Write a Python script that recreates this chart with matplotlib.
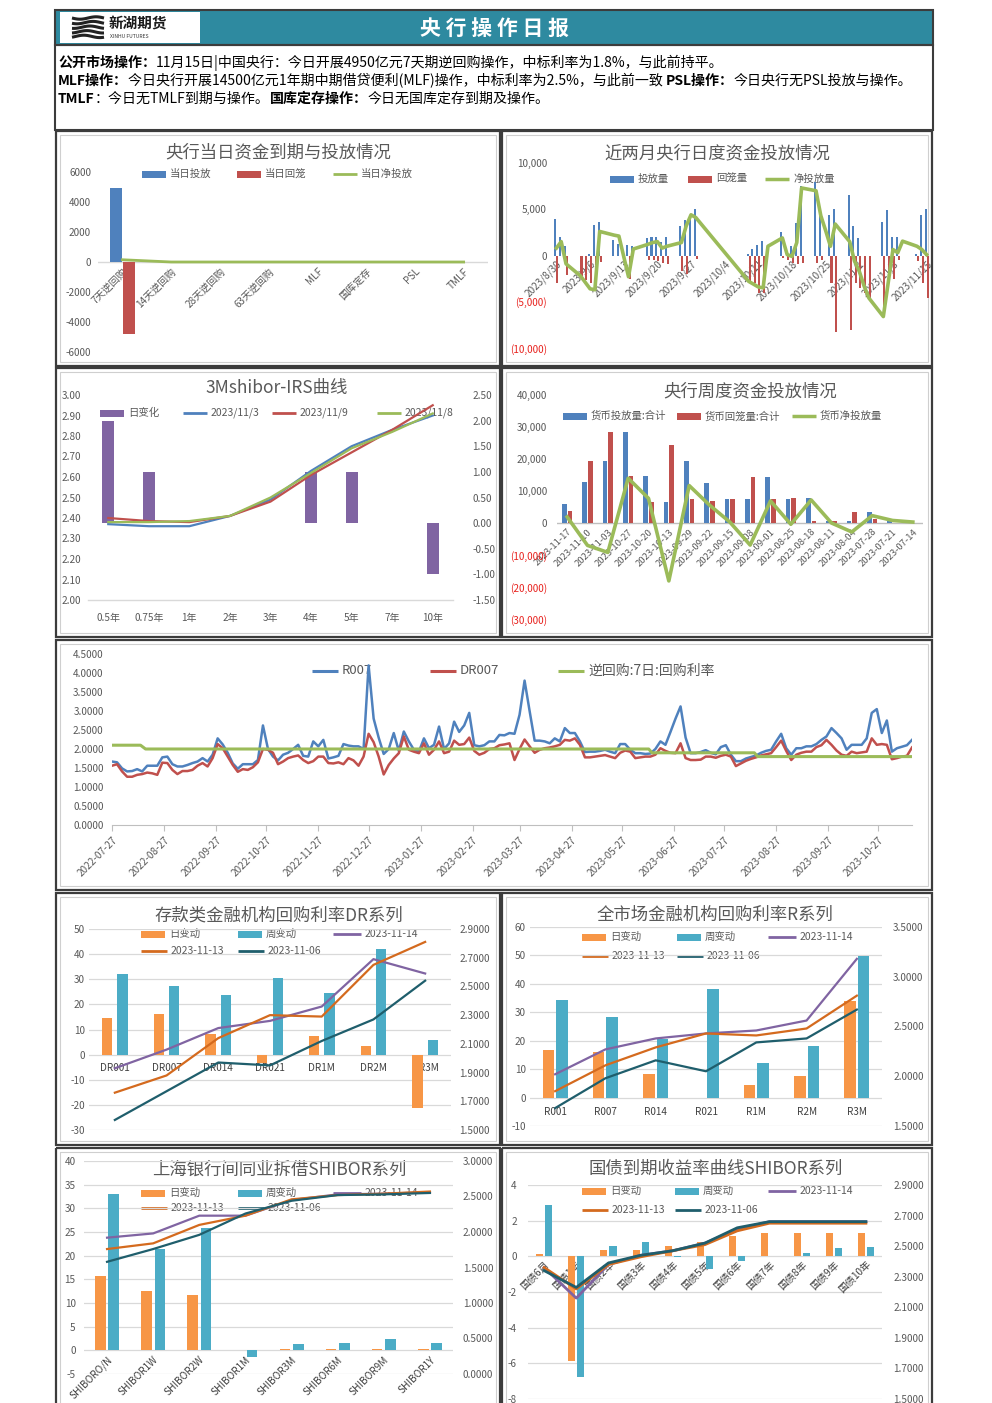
import matplotlib
matplotlib.use('Agg')
import matplotlib.pyplot as plt
import matplotlib.dates as mdates
import matplotlib.ticker as mticker
from matplotlib.patches import Rectangle
import numpy as np
import pandas as pd

plt.rcParams['font.family'] = ['Noto Sans CJK SC', 'DejaVu Sans']
plt.rcParams['axes.unicode_minus'] = False

# ---------------------------------------------------------------- data
c1_cats = ['7天逆回购', '14天逆回购', '28天逆回购', '63天逆回购', 'MLF', '国库定存', 'PSL', 'TMLF']
c1_inject = [4950, 0, 0, 0, 0, 0, 0, 0]
c1_withdraw = [-4800, 0, 0, 0, 0, 0, 0, 0]
c1_net = [150, 0, 0, 0, 0, 0, 0, 0]

c2_dates = ['2023-08-30', '2023-08-31', '2023-09-01', '2023-09-04', '2023-09-05', '2023-09-06',
            '2023-09-07', '2023-09-08', '2023-09-11', '2023-09-12', '2023-09-13', '2023-09-14',
            '2023-09-15', '2023-09-18', '2023-09-19', '2023-09-20', '2023-09-21', '2023-09-22',
            '2023-09-25', '2023-09-26', '2023-09-27', '2023-09-28', '2023-10-09', '2023-10-10',
            '2023-10-11', '2023-10-12', '2023-10-13', '2023-10-16', '2023-10-17', '2023-10-18',
            '2023-10-19', '2023-10-20', '2023-10-23', '2023-10-24', '2023-10-25', '2023-10-26',
            '2023-10-27', '2023-10-30', '2023-10-31', '2023-11-01', '2023-11-02', '2023-11-03',
            '2023-11-06', '2023-11-07', '2023-11-08', '2023-11-09', '2023-11-10', '2023-11-13',
            '2023-11-14', '2023-11-15']
c2_inject = [3900, 2000, 1000, 0, 0, 200, 3300, 3600, 1700, 1200, 0, 1100, 1000, 1900, 2000, 2000,
             1500, 2000, 3200, 3800, 4400, 5000, 200, 700, 1100, 1600, 0, 2500, 0, 1000, 3500, 7500,
             7900, 5000, 0, 4400, 5000, 6500, 3200, 1900, 0, 0, 3600, 4900, 2000, 2000, 0, 200,
             4400, 5000]
c2_withdraw = [-3000, 0, -2100, -2200, -2600, -3000, -1000, -700, -100, -100, 0, -2500, 0, -500,
               -500, -600, -800, -900, -1700, -2000, 0, -400, -2800, -3000, -4000, -4000, 0, -300,
               -500, -800, -900, -800, -800, -500, 0, -3000, -8300, -8000, -3000, -3500, -4000,
               -4800, -6000, -3000, -2500, -500, 0, -600, -3000, -4600]
c2_net = [800, 1500, -900, -2200, -2900, -3600, -3700, 2600, 2200, 2100, -100, -2300, 700, 1200,
          1400, 1500, 800, 1000, 1400, 3200, 4400, 4100, -2800, -3100, -3400, -3500, 1000, 1900,
          100, -100, 1400, 7300, 7000, 4300, 2700, 1000, 3400, 1500, -600, -1700, -3300, -4600,
          -6600, -3000, 650, 300, 1550, 1000, 650, 100]
c2_ticks = ['2023/8/30', '2023/9/6', '2023/9/13', '2023/9/20', '2023/9/27', '2023/10/4',
            '2023/10/11', '2023/10/18', '2023/10/25', '2023/11/1', '2023/11/8', '2023/11/15']

c3_cats = ['0.5年', '0.75年', '1年', '2年', '3年', '4年', '5年', '7年', '10年']
c3_chg = [2.0, 1.0, 0, 0, 0, 1.0, 1.0, 0, -1.0]
c3_1103 = [2.37, 2.36, 2.36, 2.41, 2.49, 2.63, 2.75, 2.83, 2.90]
c3_1109 = [2.40, 2.385, 2.38, 2.41, 2.48, 2.61, 2.72, 2.83, 2.95]
c3_1108 = [2.38, 2.38, 2.385, 2.41, 2.50, 2.62, 2.74, 2.82, 2.91]

c4_weeks = ['2023-11-17', '2023-11-10', '2023-11-03', '2023-10-27', '2023-10-20', '2023-10-13',
            '2023-09-29', '2023-09-22', '2023-09-15', '2023-09-08', '2023-09-01', '2023-08-25',
            '2023-08-18', '2023-08-11', '2023-08-04', '2023-07-28', '2023-07-21', '2023-07-14']
c4_inject = [5800, 12700, 19300, 28500, 14800, 6600, 19300, 12600, 7500, 7500, 14400, 7500, 7900,
             700, 700, 3500, 800, 300]
c4_withdraw = [3900, 19300, 28500, 14800, 6600, 24500, 7500, 6900, 7500, 14400, 7500, 7900, 700,
               700, 3500, 1200, 0, 0]
c4_net = [1900, -7000, -9200, 14000, 7700, -18100, 11700, 5600, 300, -6900, 6900, -400, 7200, 0,
          -2800, 2300, 800, 300]

c5_start = '2022-07-27'
c5_step_days = 3
r007 = [1.67, 1.65, 1.49, 1.41, 1.42, 1.47, 1.41, 1.56, 1.56, 1.56,
        1.78, 1.80, 1.60, 1.54, 1.54, 1.58, 1.63, 1.67, 1.76, 1.67,
        1.85, 2.28, 2.12, 1.90, 1.62, 1.48, 1.60, 1.60, 1.60, 1.71,
        2.62, 2.00, 1.80, 1.70, 1.85, 1.90, 2.00, 2.11, 1.82, 1.80,
        2.20, 2.07, 2.24, 1.75, 1.78, 1.82, 2.13, 2.09, 2.07, 2.07,
        2.00, 4.20, 2.80, 2.30, 1.87, 2.00, 2.42, 1.95, 2.46, 2.20,
        1.98, 1.93, 2.28, 2.02, 2.11, 2.59, 2.00, 2.15, 2.72, 2.45,
        2.62, 2.95, 2.10, 2.07, 2.10, 2.20,
        2.20, 2.37, 2.36, 2.42, 2.40, 2.90, 3.80, 3.00, 2.22, 2.22,
        2.20, 2.15, 2.28, 2.20, 2.55, 2.42, 2.42, 2.20, 1.92, 1.93,
        1.93, 1.95, 1.98, 1.93, 1.89, 2.13, 2.13, 1.98, 1.89, 1.89,
        1.87, 1.88, 2.00, 2.20, 2.11, 2.45, 2.80, 3.12, 2.30, 1.89,
        1.89, 1.92, 1.97, 1.90, 1.86, 2.05, 2.10, 1.85, 1.68, 1.68,
        1.75, 1.79, 1.83, 1.90, 1.95, 1.98, 2.20, 2.40, 2.02, 1.85,
        2.02, 2.02, 2.07, 2.07, 2.13, 2.24, 2.33, 2.55, 2.42, 2.28,
        1.98, 2.11, 2.11, 2.11, 2.28, 2.95, 3.05, 2.42, 2.75, 1.93,
        2.02, 2.06, 2.10, 2.24]
dr007 = [1.56, 1.60, 1.41, 1.27, 1.27, 1.32, 1.34, 1.38, 1.36, 1.32,
         1.64, 1.63, 1.45, 1.34, 1.42, 1.42, 1.45, 1.56, 1.63, 1.54,
         1.76, 2.13, 2.02, 1.80, 1.58, 1.40, 1.47, 1.45, 1.52, 1.65,
         2.00, 1.98, 1.90, 1.60, 1.67, 1.76, 1.80, 1.83, 1.71, 1.63,
         1.68, 1.80, 1.80, 1.63, 1.62, 1.65, 1.60, 1.76, 1.70, 1.56,
         1.80, 2.40, 2.18, 1.80, 1.33, 1.58, 1.75, 1.89, 2.33, 1.98,
         1.93, 1.89, 2.15, 1.85, 1.98, 2.20, 1.89, 1.93, 2.22, 2.11,
         2.13, 2.30, 1.95, 1.85, 1.90, 2.00,
         2.02, 2.10, 2.12, 2.15, 1.71, 2.00, 2.25, 2.07, 1.90, 1.98,
         2.02, 2.04, 2.07, 2.11, 2.24, 2.22, 2.28, 2.11, 1.78, 1.78,
         1.80, 1.82, 1.84, 1.80, 1.76, 1.90, 1.96, 1.93, 1.76, 1.78,
         1.80, 1.80, 1.85, 2.02, 1.95, 1.90, 1.89, 2.15, 1.76, 1.71,
         1.71, 1.72, 1.80, 1.80, 1.77, 1.82, 1.85, 1.80, 1.55, 1.62,
         1.69, 1.74, 1.78, 1.83, 1.86, 1.89, 2.05, 2.22, 1.95, 1.71,
         1.85, 1.90, 1.93, 1.93, 2.05, 2.10, 2.24, 2.11, 1.96, 1.85,
         1.82, 1.93, 1.89, 1.91, 1.93, 2.28, 2.11, 2.13, 2.11, 1.73,
         1.76, 1.80, 1.82, 2.04]
rr_dates = ['2022-07-27', '2022-08-13', '2022-08-16', '2023-06-12', '2023-06-14', '2023-08-14',
            '2023-08-16', '2023-11-16']
rr_vals = [2.10, 2.10, 2.00, 2.00, 1.90, 1.90, 1.80, 1.80]
c5_ticks = ['2022-07-27', '2022-08-27', '2022-09-27', '2022-10-27', '2022-11-27', '2022-12-27',
            '2023-01-27', '2023-02-27', '2023-03-27', '2023-04-27', '2023-05-27', '2023-06-27',
            '2023-07-27', '2023-08-27', '2023-09-27', '2023-10-27']

c6_cats = ['DR001', 'DR007', 'DR014', 'DR021', 'DR1M', 'DR2M', 'DR3M']
c6_day = [14.6, 16.3, 8.4, -3.3, 7.5, 3.6, -21.1]
c6_week = [32.1, 27.2, 23.9, 30.5, 24.6, 42.1, 5.8]
c6_1114 = [1.93, 2.06, 2.21, 2.26, 2.36, 2.69, 2.59]
c6_1113 = [1.76, 1.88, 2.14, 2.30, 2.29, 2.65, 2.81]
c6_1106 = [1.57, 1.77, 1.97, 1.95, 2.12, 2.27, 2.54]

c7_cats = ['R001', 'R007', 'R014', 'R021', 'R1M', 'R2M', 'R3M']
c7_day = [16.9, 16.1, 8.2, 0, 4.4, 7.6, 34.0]
c7_week = [34.2, 28.5, 20.5, 38.1, 12.0, 18.1, 49.7]
c7_1114 = [2.02, 2.27, 2.38, 2.43, 2.46, 2.56, 3.18]
c7_1113 = [1.85, 2.11, 2.29, 2.43, 2.41, 2.48, 2.81]
c7_1106 = [1.68, 1.98, 2.16, 2.05, 2.34, 2.38, 2.67]

c8_cats = ['SHIBORO/N', 'SHIBOR1W', 'SHIBOR2W', 'SHIBOR1M', 'SHIBOR3M', 'SHIBOR6M', 'SHIBOR9M', 'SHIBOR1Y']
c8_day = [15.8, 12.5, 11.7, 0, 0.3, 0.3, 0.3, 0.3]
c8_week = [33.1, 21.5, 25.9, -1.5, 1.3, 1.6, 2.5, 1.6]
c8_1114 = [1.92, 1.98, 2.23, 2.23, 2.45, 2.53, 2.54, 2.56]
c8_1113 = [1.76, 1.84, 2.10, 2.23, 2.46, 2.52, 2.54, 2.57]
c8_1106 = [1.58, 1.76, 1.96, 2.26, 2.44, 2.52, 2.53, 2.55]

c9_cats = ['国债6月', '国债1年', '国债2年', '国债3年', '国债4年', '国债5年', '国债6年', '国债7年', '国债8年', '国债9年', '国债10年']
c9_day = [0.15, -5.85, 0.37, 0.37, 0.6, 0.78, 1.16, 1.3, 1.3, 1.3, 1.3]
c9_week = [2.9, -6.77, 0.6, 0.78, -0.06, -0.7, -0.24, 0, 0.19, 0.47, 0.52]
c9_1114 = [2.36, 2.16, 2.38, 2.44, 2.47, 2.52, 2.61, 2.66, 2.66, 2.66, 2.66]
c9_1113 = [2.36, 2.22, 2.38, 2.43, 2.47, 2.51, 2.60, 2.65, 2.65, 2.65, 2.65]
c9_1106 = [2.34, 2.23, 2.39, 2.44, 2.47, 2.52, 2.62, 2.66, 2.66, 2.66, 2.66]

header_lines = [
    [('公开市场操作：', True), ('11月15日|中国央行：今日开展4950亿元7天期逆回购操作，中标利率为1.8%，与此前持平。', False)],
    [('MLF操作：', True), ('今日央行开展14500亿元1年期中期借贷便利(MLF)操作，中标利率为2.5%，与此前一致 ', False),
     ('PSL操作：', True), ('今日央行无PSL投放与操作。', False)],
    [('TMLF', True), ('：今日无TMLF到期与操作。', False), ('国库定存操作：', True), ('今日无国库定存到期及操作。', False)],
]

# ---------------------------------------------------------------- style
W, H = 992, 1403
DPI = 100
BLUE = '#4F81BD'; RED = '#C0504D'; GREEN = '#9BBB59'; PURPLE = '#8064A2'
ORANGE = '#F79646'; TEAL = '#4BACC6'; BROWN = '#D46A1E'; DTEAL = '#1F5E6C'
TG = '#595959'; NEG = '#E8231F'; GRID = '#D9D9D9'; FRAME = '#3C3C3C'
TFS = 12.5   # chart title size
LFS = 7.5    # legend size
KFS = 7.2    # tick size

fig = plt.figure(figsize=(W / DPI, H / DPI), dpi=DPI)
bg = fig.add_axes([0, 0, 1, 1])
bg.set_xlim(0, W); bg.set_ylim(H, 0); bg.axis('off'); bg.set_zorder(-5)


def R(x0, y0, x1, y1):
    return [x0 / W, 1 - y1 / H, (x1 - x0) / W, (y1 - y0) / H]


def box(x0, y0, x1, y1, ec, lw, fc='none', z=1):
    bg.add_patch(Rectangle((x0, y0), x1 - x0, y1 - y0, fc=fc, ec=ec, lw=lw, zorder=z))


def make_ax(x0, y0, x1, y1):
    ax = fig.add_axes(R(x0, y0, x1, y1))
    ax.patch.set_alpha(0)
    for s in ax.spines.values():
        s.set_visible(False)
    ax.tick_params(axis='both', length=0, labelsize=KFS, labelcolor=TG)
    return ax


def twin(ax):
    t = ax.twinx()
    t.patch.set_alpha(0)
    for s in t.spines.values():
        s.set_visible(False)
    t.tick_params(axis='both', length=0, labelsize=KFS, labelcolor=TG)
    return t


def leg(x, y, kind, color, label, fs=LFS, hw=24, lw=2.0):
    if kind == 'bar':
        bg.add_patch(Rectangle((x, y - 3.5), hw, 7, fc=color, ec='none', zorder=2))
    else:
        bg.plot([x, x + hw], [y, y], color=color, lw=lw, solid_capstyle='butt', zorder=2)
    bg.text(x + hw + 4, y, label, fontsize=fs, color=TG, va='center', ha='left', zorder=2)


def title(cx, cy, s):
    bg.text(cx, cy, s, fontsize=TFS, color=TG, ha='center', va='center', zorder=2)


def fmt(f):
    return mticker.FuncFormatter(lambda v, p: f.format(v))


def paren_fmt(v, p):
    if v < 0:
        return '({:,.0f})'.format(-v)
    return '{:,.0f}'.format(v)


# ---------------------------------------------------------------- frames
box(55, 10, 933, 45, FRAME, 1.5, fc='#2E8AA0', z=1)
box(60, 12, 200, 43, 'none', 0, fc='white', z=2)
box(55, 45, 933, 130, FRAME, 1.5, z=1)
panels = [(56, 131, 500, 366), (502, 131, 932, 366), (56, 368, 500, 637), (502, 368, 932, 637),
          (56, 640, 932, 890), (56, 893, 500, 1145), (502, 893, 932, 1145),
          (56, 1148, 500, 1412), (502, 1148, 932, 1412)]
for (a, b, c, d) in panels:
    box(a, b, c, d, FRAME, 1.6)
    box(a + 4, b + 4, c - 4, d - 4, '#CFCFCF', 0.8)

# header title + logo
bg.text(495, 28, '央 行 操 作 日 报', color='white', fontsize=15, fontweight='bold',
        ha='center', va='center', zorder=3)
for i in range(5):
    xs = np.linspace(72, 104, 30)
    ys = 18 + i * 4.6 + 1.2 * np.sin((xs - 72) / 32 * 2 * np.pi + i * 0.6)
    bg.plot(xs, ys, color='#222222', lw=2.2, zorder=3, solid_capstyle='butt')
bg.text(109, 24, '新湖期货', fontsize=10.5, fontweight='bold', color='#1A1A1A', ha='left',
        va='center', zorder=3)
bg.text(110, 37, 'XINHU FUTURES', fontsize=3.6, color='#333333', ha='left', va='center', zorder=3)

# header text lines (mixed bold)
renderer = fig.canvas.get_renderer()


def draw_line(y, segs, fs, draw=True):
    x = 58
    arts = []
    for s, b in segs:
        t = bg.text(x, y, s, fontsize=fs, fontweight='bold' if b else 'normal', color='black',
                    ha='left', va='center', zorder=3)
        ext = t.get_window_extent(renderer=renderer)
        x += ext.width
        arts.append(t)
    if not draw:
        for t in arts:
            t.remove()
    return x


w_test = draw_line(81, header_lines[1], 10, draw=False) - 58
hfs = 10 * (912 - 58) / w_test
for yy, segs in zip([63, 81, 99], header_lines):
    draw_line(yy, segs, hfs)

# ---------------------------------------------------------------- chart 1
title(278, 152, '央行当日资金到期与投放情况')
leg(142, 174, 'bar', BLUE, '当日投放')
leg(237, 174, 'bar', RED, '当日回笼')
leg(333, 174, 'line', GREEN, '当日净投放')
ax1 = make_ax(98, 172, 488, 352)
x1 = np.arange(len(c1_cats))
ax1.axhline(0, color=GRID, lw=1, zorder=0)
ax1.bar(x1 - 0.135, c1_inject, 0.24, color=BLUE, zorder=2)
ax1.bar(x1 + 0.135, c1_withdraw, 0.24, color=RED, zorder=2)
ax1.plot(x1, c1_net, color=GREEN, lw=2, zorder=3)
ax1.set_xlim(-0.5, len(c1_cats) - 0.5)
ax1.set_ylim(-6000, 6000)
ax1.set_yticks(range(-6000, 6001, 2000))
ax1.yaxis.set_major_formatter(fmt('{:.0f}'))
ax1.spines['bottom'].set_position(('data', 0))
ax1.set_xticks(x1)
ax1.set_xticklabels(c1_cats, rotation=45, ha='right', va='top', rotation_mode='anchor')
ax1.tick_params(axis='x', pad=3)
ax1.tick_params(axis='y', pad=5)

# ---------------------------------------------------------------- chart 2
title(717, 153, '近两月央行日度资金投放情况')
leg(610, 179, 'bar', BLUE, '投放量')
leg(688, 179, 'bar', RED, '回笼量')
leg(765, 179, 'line', GREEN, '净投放量', lw=2.5)
ax2 = make_ax(554, 163, 929, 348)
d2 = mdates.date2num(pd.to_datetime(c2_dates))
ax2.bar(d2 - 0.22, c2_inject, 0.42, color=BLUE, zorder=2)
ax2.bar(d2 + 0.22, c2_withdraw, 0.42, color=RED, zorder=2)
ax2.plot(d2, c2_net, color=GREEN, lw=2.6, zorder=3)
ax2.set_xlim(d2[0] - 0.5, d2[-1] + 0.5)
ax2.set_ylim(-10000, 10000)
ax2.set_yticks([-10000, -5000, 0, 5000, 10000])
ax2.yaxis.set_major_formatter(mticker.FuncFormatter(paren_fmt))
for t, v in zip(ax2.get_yticklabels(), [-10000, -5000, 0, 5000, 10000]):
    t.set_color(NEG if v < 0 else TG)
ax2.spines['bottom'].set_position(('data', 0))
ax2.set_xticks(mdates.date2num(pd.to_datetime(c2_ticks, format='%Y/%m/%d')))
ax2.set_xticklabels(c2_ticks, rotation=45, ha='right', va='top', rotation_mode='anchor')
ax2.tick_params(axis='x', pad=2)
ax2.tick_params(axis='y', pad=5)

# ---------------------------------------------------------------- chart 3
title(277, 388, '3Mshibor-IRS曲线')
leg(100, 413, 'bar', PURPLE, '日变化')
leg(183, 413, 'line', BLUE, '2023/11/3')
leg(272, 413, 'line', RED, '2023/11/9')
leg(377, 413, 'line', GREEN, '2023/11/8')
ax3 = make_ax(88, 395, 453, 600)
ax3b = twin(ax3)
x3 = np.arange(len(c3_cats))
ax3b.bar(x3, c3_chg, 0.3, color=PURPLE, zorder=2)
ax3b.set_ylim(-1.5, 2.5)
ax3b.set_yticks(np.arange(-1.5, 2.51, 0.5))
ax3b.yaxis.set_major_formatter(fmt('{:.2f}'))
ax3b.tick_params(axis='y', pad=14)
ax3.set_zorder(ax3b.get_zorder() + 1)
ax3.patch.set_visible(False)
ax3.plot(x3, c3_1103, color=BLUE, lw=1.6, zorder=3)
ax3.plot(x3, c3_1109, color=RED, lw=1.6, zorder=3)
ax3.plot(x3, c3_1108, color=GREEN, lw=1.6, zorder=3)
ax3.axhline(2.0, color=GRID, lw=1, zorder=0, clip_on=False)
ax3.set_ylim(2.0, 3.0)
ax3.set_yticks(np.arange(2.0, 3.001, 0.1))
ax3.yaxis.set_major_formatter(fmt('{:.2f}'))
ax3.set_xlim(-0.5, len(c3_cats) - 0.5)
ax3.set_xticks(x3)
ax3.set_xticklabels(c3_cats)
ax3.tick_params(axis='x', pad=9)
ax3.tick_params(axis='y', pad=5)

# ---------------------------------------------------------------- chart 4
title(750, 391, '央行周度资金投放情况')
leg(563, 416, 'bar', BLUE, '货币投放量:合计')
leg(677, 416, 'bar', RED, '货币回笼量:合计')
leg(792, 416, 'line', GREEN, '货币净投放量', lw=2.5)
ax4 = make_ax(557, 395, 923, 619)
x4 = np.arange(len(c4_weeks))
ax4.axhline(0, color='#BFBFBF', lw=1, zorder=0)
ax4.bar(x4 - 0.14, c4_inject, 0.22, color=BLUE, zorder=2)
ax4.bar(x4 + 0.14, c4_withdraw, 0.22, color=RED, zorder=2)
ax4.plot(x4, c4_net, color=GREEN, lw=2.6, zorder=3)
ax4.set_xlim(-0.5, len(c4_weeks) - 0.5)
ax4.set_ylim(-30000, 40000)
yt4 = list(range(-30000, 40001, 10000))
ax4.set_yticks(yt4)
ax4.yaxis.set_major_formatter(mticker.FuncFormatter(paren_fmt))
for t, v in zip(ax4.get_yticklabels(), yt4):
    t.set_color(NEG if v < 0 else TG)
ax4.spines['bottom'].set_position(('data', 0))
ax4.set_xticks(x4)
ax4.set_xticklabels(c4_weeks, rotation=45, ha='right', va='top', rotation_mode='anchor')
ax4.tick_params(axis='x', pad=3, labelsize=6.8)
ax4.tick_params(axis='y', pad=7)

# ---------------------------------------------------------------- chart 5
leg(312, 671, 'line', BLUE, 'R007', fs=9.5, hw=26, lw=2.2)
leg(430, 671, 'line', RED, 'DR007', fs=9.5, hw=26, lw=2.2)
leg(558, 671, 'line', GREEN, '逆回购:7日:回购利率', fs=10, hw=26, lw=2.2)
ax5 = make_ax(112, 654, 912, 825)
d5 = pd.date_range(c5_start, periods=len(r007), freq='{}D'.format(c5_step_days))
ax5.plot(d5, r007, color=BLUE, lw=1.8, zorder=2)
ax5.plot(d5, dr007, color=RED, lw=1.8, zorder=3)
ax5.plot(pd.to_datetime(rr_dates), rr_vals, color=GREEN, lw=2.2, zorder=4)
ax5.set_xlim(pd.Timestamp('2022-07-27'), pd.Timestamp('2023-11-16'))
ax5.set_ylim(0, 4.5)
ax5.set_yticks(np.arange(0, 4.51, 0.5))
ax5.yaxis.set_major_formatter(fmt('{:.4f}'))
ax5.spines['bottom'].set_visible(True)
ax5.spines['bottom'].set_color('#BFBFBF')
ax5.set_xticks(pd.to_datetime(c5_ticks))
ax5.set_xticklabels(c5_ticks, rotation=45, ha='right', va='top', rotation_mode='anchor')
ax5.tick_params(axis='x', length=4, color='#BFBFBF', pad=3)
ax5.tick_params(axis='y', pad=6)


# ---------------------------------------------------------------- charts 6-9 helper
def combo(box_px, cats, day, week, l14, l13, l06, ylim_l, step_l, ylim_r, step_r, off,
          bw, lpad, rpad, rot, xpad, lw=1.6):
    ax = make_ax(*box_px)
    axb = twin(ax)
    x = np.arange(len(cats))
    for v in np.arange(ylim_l[0], ylim_l[1] + 0.001, step_l):
        ax.axhline(v, color=GRID, lw=0.9, zorder=0)
    ax.bar(x - off, day, bw, color=ORANGE, zorder=2)
    ax.bar(x + off, week, bw, color=TEAL, zorder=2)
    ax.set_xlim(-0.5, len(cats) - 0.5)
    ax.set_ylim(*ylim_l)
    ax.set_yticks(np.arange(ylim_l[0], ylim_l[1] + 0.001, step_l))
    ax.yaxis.set_major_formatter(fmt('{:.0f}'))
    ax.spines['bottom'].set_position(('data', 0))
    ax.set_xticks(x)
    if rot:
        ax.set_xticklabels(cats, rotation=45, ha='right', va='top', rotation_mode='anchor')
    else:
        ax.set_xticklabels(cats)
    ax.tick_params(axis='x', pad=xpad, labelcolor='#404040')
    ax.tick_params(axis='y', pad=lpad)
    axb.plot(x, l14, color=PURPLE, lw=lw, zorder=3)
    axb.plot(x, l13, color=BROWN, lw=lw, zorder=3)
    axb.plot(x, l06, color=DTEAL, lw=lw, zorder=3)
    axb.set_ylim(*ylim_r)
    axb.set_yticks(np.arange(ylim_r[0], ylim_r[1] + 0.0001, step_r))
    axb.yaxis.set_major_formatter(fmt('{:.4f}'))
    axb.tick_params(axis='y', pad=rpad)
    return ax, axb


def combo_legend(x1, x2, x3, y1, y2):
    leg(x1, y1, 'bar', ORANGE, '日变动')
    leg(x2, y1, 'bar', TEAL, '周变动')
    leg(x3, y1, 'line', PURPLE, '2023-11-14', hw=28)
    leg(x1, y2, 'line', BROWN, '2023-11-13', hw=26)
    leg(x2, y2, 'line', DTEAL, '2023-11-06', hw=26)


# chart 6
title(279, 916, '存款类金融机构回购利率DR系列')
combo_legend(141, 238, 333, 934, 951)
combo((89, 929, 451, 1130), c6_cats, c6_day, c6_week, c6_1114, c6_1113, c6_1106,
      (-30, 50), 10, (1.5, 2.9), 0.2, 0.15, 0.2, 3, 6, False, 6)

# chart 7
title(715, 915, '全市场金融机构回购利率R系列')
combo_legend(582, 677, 768, 937, 956)
combo((530, 927, 882, 1126), c7_cats, c7_day, c7_week, c7_1114, c7_1113, c7_1106,
      (-10, 60), 10, (1.5, 3.5), 0.5, 0.135, 0.23, 3, 8, False, 7)

# chart 8
title(279, 1170, '上海银行间同业拆借SHIBOR系列')
combo_legend(141, 238, 333, 1193, 1208)
combo((84, 1161, 453, 1374), c8_cats, c8_day, c8_week, c8_1114, c8_1113, c8_1106,
      (-5, 40), 5, (0.0, 3.0), 0.5, 0.145, 0.23, 6, 7, True, 3)

# chart 9
title(716, 1169, '国债到期收益率曲线SHIBOR系列')
combo_legend(582, 675, 768, 1191, 1210)
combo((528, 1185, 882, 1399), c9_cats, c9_day, c9_week, c9_1114, c9_1113, c9_1106,
      (-8, 4), 2, (1.5, 2.9), 0.2, 0.14, 0.22, 8, 8, True, 2, lw=2.0)

fig.savefig('out.png', dpi=DPI, facecolor='white')
